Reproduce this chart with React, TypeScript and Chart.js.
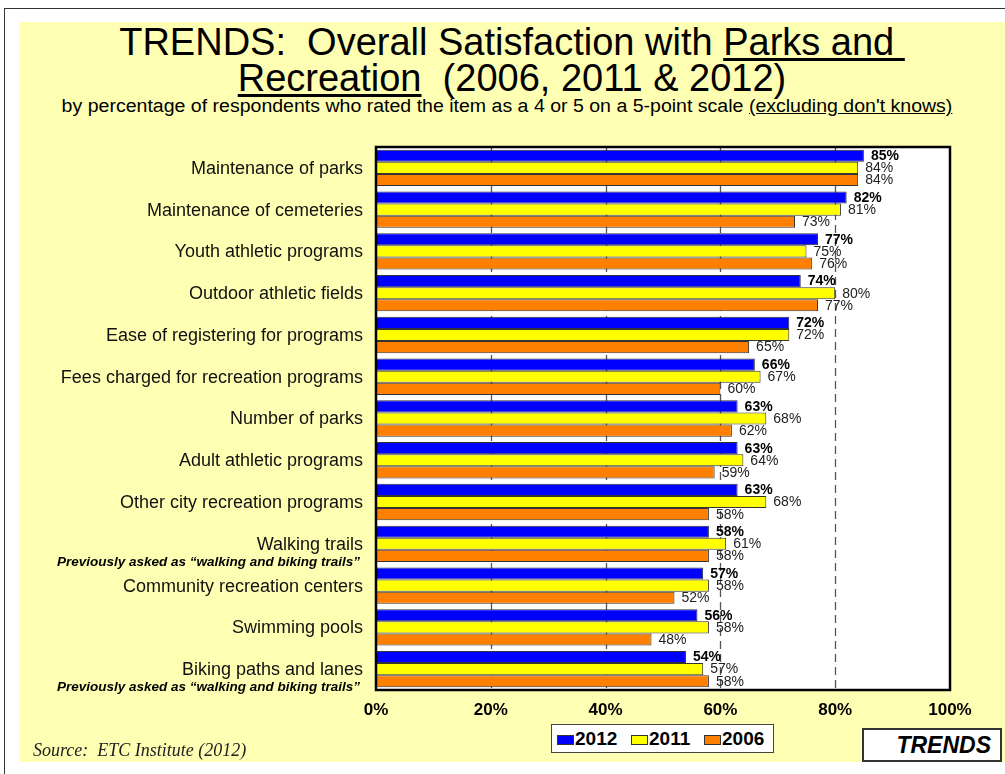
import React, { useEffect, useRef } from "react";
import { Chart, registerables } from "chart.js";

Chart.register(...registerables);

const categories = [
  "Maintenance of parks",
  "Maintenance of cemeteries",
  "Youth athletic programs",
  "Outdoor athletic fields",
  "Ease of registering for programs",
  "Fees charged for recreation programs",
  "Number of parks",
  "Adult athletic programs",
  "Other city recreation programs",
  "Walking trails",
  "Community recreation centers",
  "Swimming pools",
  "Biking paths and lanes",
];

const subLabels = [
  "", "", "", "", "", "", "", "", "",
  "Previously asked as \u201cwalking and biking trails\u201d",
  "", "",
  "Previously asked as \u201cwalking and biking trails\u201d",
];

const values2012 = [85, 82, 77, 74, 72, 66, 63, 63, 63, 58, 57, 56, 54];
const values2011 = [84, 81, 75, 80, 72, 67, 68, 64, 68, 61, 58, 58, 57];
const values2006 = [84, 73, 76, 77, 65, 60, 62, 59, 58, 58, 52, 48, 58];

const seriesNames = ["2012", "2011", "2006"];
const seriesColors = ["#0000FF", "#FFFF00", "#FF8000"];
const gridValues = [20, 40, 60, 80];

const SANS = '"Liberation Sans", Arial, Helvetica, sans-serif';

const plotPlugin = {
  id: "plotDecor",
  beforeDraw(chart: any) {
    const { ctx, chartArea } = chart;
    ctx.save();
    ctx.fillStyle = "#FFFFFF";
    ctx.fillRect(chartArea.left, chartArea.top, chartArea.right - chartArea.left, chartArea.bottom - chartArea.top);
    ctx.restore();
  },
  beforeDatasetsDraw(chart: any) {
    const { ctx, chartArea, scales } = chart;
    ctx.save();
    ctx.strokeStyle = "#555555";
    ctx.lineWidth = 1.3;
    ctx.setLineDash([8, 5]);
    gridValues.forEach((v) => {
      const x = Math.round(scales.x.getPixelForValue(v)) + 0.5;
      ctx.beginPath();
      ctx.moveTo(x, chartArea.top);
      ctx.lineTo(x, chartArea.bottom);
      ctx.stroke();
    });
    ctx.restore();
  },
  afterDatasetsDraw(chart: any) {
    const { ctx } = chart;
    ctx.save();
    ctx.textAlign = "left";
    ctx.textBaseline = "middle";
    chart.data.datasets.forEach((ds: any, di: number) => {
      const meta = chart.getDatasetMeta(di);
      ctx.font = (di === 0 ? "bold " : "") + "14px " + SANS;
      ctx.fillStyle = di === 0 ? "#000000" : "#222222";
      meta.data.forEach((bar: any, i: number) => {
        ctx.fillText(ds.data[i] + "%", bar.x + 7, bar.y + 0.5);
      });
    });
    ctx.restore();
  },
  afterDraw(chart: any) {
    const { ctx, chartArea, scales } = chart;
    ctx.save();
    ctx.textAlign = "right";
    ctx.textBaseline = "middle";
    categories.forEach((c, i) => {
      const y = scales.y.getPixelForValue(i);
      ctx.font = "18px " + SANS;
      ctx.fillStyle = "#111111";
      ctx.fillText(c, chartArea.left - 13, y + 1);
      if (subLabels[i]) {
        ctx.font = "italic bold 13.5px " + SANS;
        ctx.fillStyle = "#000000";
        ctx.fillText(subLabels[i], chartArea.left - 16, y + 18);
      }
    });
    ctx.strokeStyle = "#000000";
    ctx.lineWidth = 2.5;
    ctx.strokeRect(chartArea.left, chartArea.top, chartArea.right - chartArea.left, chartArea.bottom - chartArea.top);
    ctx.restore();
  },
};

function App() {
  const canvasRef = useRef<HTMLCanvasElement | null>(null);

  useEffect(() => {
    if (!canvasRef.current) return;
    const chart = new Chart(canvasRef.current, {
      type: "bar",
      data: {
        labels: categories,
        datasets: [values2012, values2011, values2006].map((vals, i) => ({
          label: seriesNames[i],
          data: vals,
          backgroundColor: seriesColors[i],
          borderColor: "#333333",
          borderWidth: 1,
          borderSkipped: false,
          categoryPercentage: 0.87,
          barPercentage: 1.0,
        })),
      },
      options: {
        indexAxis: "y",
        responsive: false,
        animation: false,
        devicePixelRatio: 1,
        layout: { padding: { left: 376, right: 55, top: 147, bottom: 44 } },
        plugins: {
          legend: { display: false },
          tooltip: { enabled: false },
          title: { display: false },
        },
        scales: {
          y: { type: "category", display: false, offset: true },
          x: {
            type: "linear",
            min: 0,
            max: 100,
            grid: { display: false, drawTicks: false },
            border: { display: false },
            ticks: {
              stepSize: 20,
              padding: 10,
              color: "#000000",
              font: { family: SANS, size: 17, weight: "bold" },
              callback: (v: any) => v + "%",
            },
            afterFit: (scale: any) => {
              scale.height = 40;
            },
          },
        },
      },
      plugins: [plotPlugin],
    } as any);
    return () => chart.destroy();
  }, []);

  const ul = { textDecorationThickness: "3px", textUnderlineOffset: "3px" };

  return (
    <div
      style={{
        position: "fixed",
        left: 0,
        top: 0,
        width: 1005,
        height: 774,
        overflow: "hidden",
        background: "#FFFFFF",
        fontFamily: SANS,
      }}
    >
      <div
        style={{
          position: "absolute",
          left: 4,
          top: 8,
          width: 1200,
          height: 1000,
          border: "1px solid #333",
          boxSizing: "border-box",
        }}
      />
      <div
        style={{
          position: "absolute",
          left: 19,
          top: 22,
          width: 1000,
          height: 740,
          background: "#FFFFB4",
        }}
      />
      <div
        style={{
          position: "absolute",
          left: 19,
          top: 24,
          width: 986,
          textAlign: "center",
          fontSize: 38,
          lineHeight: "36px",
          color: "#000",
          whiteSpace: "nowrap",
        }}
      >
        TRENDS:&nbsp; Overall Satisfaction with <u style={ul}>Parks and&nbsp;</u>
        <br />
        <u style={ul}>Recreation</u>
        &nbsp; (2006, 2011 &amp; 2012)
      </div>
      <div
        style={{
          position: "absolute",
          left: 19,
          top: 96,
          width: 976,
          textAlign: "center",
          fontSize: 18,
          lineHeight: "20px",
          color: "#000",
          whiteSpace: "nowrap",
          transform: "scaleX(1.085)",
          transformOrigin: "50% 50%",
        }}
      >
        by percentage of respondents who rated the item as a 4 or 5 on a 5-point scale{" "}
        <u>(excluding don't knows)</u>
      </div>
      <canvas
        ref={canvasRef}
        width={1005}
        height={774}
        style={{ position: "absolute", left: 0, top: 0, width: 1005, height: 774 }}
      />
      <div
        style={{
          position: "absolute",
          left: 551,
          top: 724,
          width: 223,
          height: 29,
          boxSizing: "border-box",
          border: "1px solid #444",
          background: "#FFFFFF",
        }}
      >
        {seriesNames.map((n, i) => {
          const sx = [5, 79, 152][i];
          return (
            <React.Fragment key={n}>
              <div
                style={{
                  position: "absolute",
                  left: sx,
                  top: 10,
                  width: 17,
                  height: 10,
                  boxSizing: "border-box",
                  border: "1px solid #333",
                  background: seriesColors[i],
                }}
              />
              <div
                style={{
                  position: "absolute",
                  left: sx + 18,
                  top: 3,
                  fontSize: 19,
                  lineHeight: "22px",
                  fontWeight: "bold",
                  color: "#000",
                }}
              >
                {n}
              </div>
            </React.Fragment>
          );
        })}
      </div>
      <div
        style={{
          position: "absolute",
          left: 33,
          top: 740,
          fontFamily: '"Liberation Serif", "Times New Roman", serif',
          fontStyle: "italic",
          fontSize: 18,
          lineHeight: "20px",
          color: "#222",
          whiteSpace: "pre",
        }}
      >
        {"Source:  ETC Institute (2012)"}
      </div>
      <div
        style={{
          position: "absolute",
          left: 862,
          top: 728,
          width: 140,
          height: 34,
          boxSizing: "border-box",
          border: "2px solid #333",
          background: "#FFFFFF",
          textAlign: "right",
          paddingRight: 9,
          fontSize: 23,
          lineHeight: "30px",
          fontWeight: "bold",
          fontStyle: "italic",
          color: "#000",
        }}
      >
        TRENDS
      </div>
    </div>
  );
}

export default App;
